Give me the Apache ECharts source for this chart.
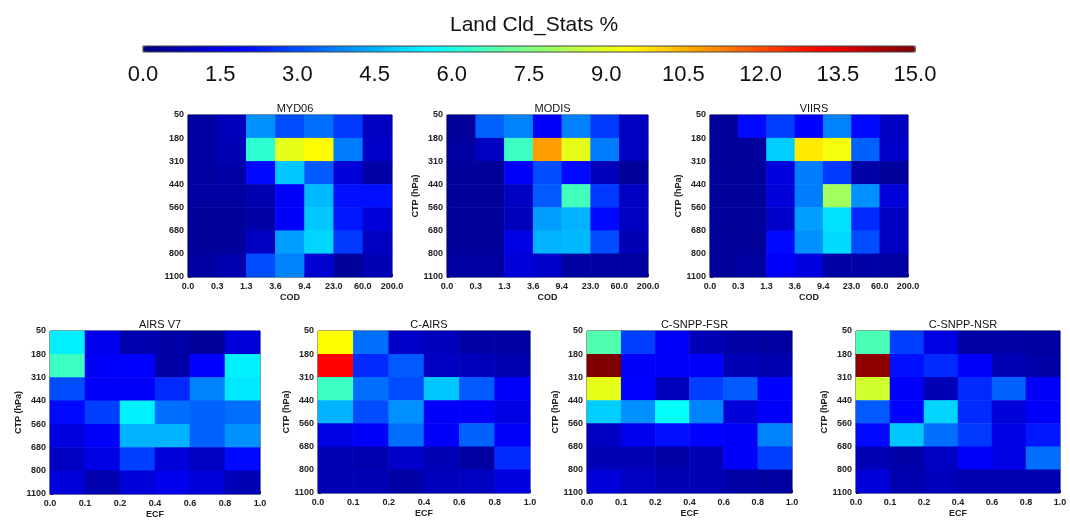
<!DOCTYPE html>
<html>
<head>
<meta charset="utf-8">
<script src="https://cdn.jsdelivr.net/npm/echarts@6/dist/echarts.min.js"></script>
<style>
  html, body { margin: 0; padding: 0; background: #fff; }
  #main { width: 1070px; height: 520px; }
</style>
</head>
<body>
<div id="main"></div>
<script>
// bin edges shown on the axes
var codLabels = ['0.0', '0.3', '1.3', '3.6', '9.4', '23.0', '60.0', '200.0'];
var ecfLabels = ['0.0', '0.1', '0.2', '0.4', '0.6', '0.8', '1.0'];
var ctpLabels = ['50', '180', '310', '440', '560', '680', '800', '1100'];
var colorbarTicks = [0, 1.5, 3, 4.5, 6, 7.5, 9, 10.5, 12, 13.5, 15];

// rows: CTP bins top (50-180) to bottom (800-1100); columns: COD / ECF bins
var myd06 = [
  [0.5, 0.9, 4.0, 3.0, 3.5, 2.7, 1.0],
  [0.5, 0.8, 6.3, 9.0, 9.4, 3.7, 1.1],
  [0.5, 0.6, 2.0, 4.8, 3.2, 1.3, 0.6],
  [0.5, 0.5, 0.7, 1.8, 4.6, 2.1, 2.1],
  [0.4, 0.4, 0.6, 1.8, 4.8, 2.2, 1.3],
  [0.4, 0.4, 1.0, 4.2, 5.0, 2.7, 1.0],
  [0.5, 0.7, 3.0, 3.8, 1.2, 0.4, 0.8]
];
var modis = [
  [0.4, 3.3, 3.8, 1.8, 3.8, 2.7, 1.0],
  [0.5, 1.0, 6.5, 10.8, 9.0, 3.7, 1.0],
  [0.4, 0.4, 1.8, 3.0, 2.0, 0.9, 0.4],
  [0.4, 0.4, 1.0, 3.2, 6.6, 2.7, 1.0],
  [0.4, 0.4, 0.9, 4.2, 4.5, 2.0, 1.0],
  [0.4, 0.4, 1.5, 4.5, 4.6, 3.0, 0.8],
  [0.5, 0.5, 1.3, 1.1, 0.5, 0.5, 0.5]
];
var viirs = [
  [0.4, 2.0, 2.8, 1.9, 3.8, 2.0, 1.0],
  [0.4, 0.4, 4.9, 9.7, 9.2, 3.3, 1.1],
  [0.4, 0.4, 1.4, 3.7, 2.7, 0.6, 0.4],
  [0.4, 0.4, 1.3, 3.7, 8.0, 4.0, 1.3],
  [0.4, 0.4, 1.1, 4.2, 5.2, 2.5, 1.0],
  [0.4, 0.4, 2.0, 4.0, 5.1, 3.0, 1.0],
  [0.4, 0.5, 1.8, 1.4, 0.6, 0.6, 0.5]
];
var airsV7 = [
  [5.4, 1.6, 0.7, 0.6, 0.4, 1.3],
  [6.5, 1.8, 1.9, 0.6, 1.9, 5.4],
  [3.0, 1.8, 1.8, 2.5, 3.8, 5.3],
  [2.0, 2.8, 5.4, 3.5, 3.3, 3.5],
  [1.4, 1.8, 4.5, 4.5, 3.3, 4.0],
  [1.0, 1.5, 2.8, 1.3, 1.0, 2.0],
  [1.3, 0.7, 1.3, 1.6, 1.3, 0.8]
];
var cAirs = [
  [9.4, 3.5, 1.1, 0.9, 0.6, 0.5],
  [13.1, 2.5, 3.2, 1.0, 0.9, 0.7],
  [6.5, 3.5, 3.0, 4.8, 3.2, 1.8],
  [4.5, 3.0, 4.0, 1.8, 1.8, 1.5],
  [1.5, 1.8, 3.5, 1.8, 3.3, 1.8],
  [0.8, 0.7, 1.1, 0.8, 0.5, 2.5],
  [0.8, 0.8, 0.6, 0.9, 1.0, 1.4]
];
var cSnppFsr = [
  [6.8, 2.8, 1.8, 0.8, 0.6, 0.5],
  [15.0, 1.8, 1.8, 1.8, 0.8, 0.7],
  [9.0, 1.9, 0.9, 2.8, 3.2, 1.9],
  [4.9, 4.0, 5.7, 3.8, 1.3, 1.8],
  [1.0, 1.6, 2.1, 1.9, 1.8, 3.8],
  [0.8, 0.8, 0.6, 0.8, 1.8, 2.8],
  [1.3, 1.0, 0.8, 0.8, 0.6, 0.5]
];
var cSnppNsr = [
  [6.7, 2.8, 1.5, 0.6, 0.6, 0.5],
  [14.8, 2.1, 2.5, 1.8, 0.8, 0.6],
  [8.7, 1.8, 0.8, 2.5, 3.3, 1.8],
  [3.2, 1.9, 5.0, 2.5, 1.3, 1.8],
  [2.0, 4.8, 3.5, 2.7, 1.5, 2.2],
  [0.8, 0.6, 1.0, 1.8, 1.5, 3.5],
  [1.3, 0.7, 0.9, 0.7, 0.7, 0.7]
];

var panels = [
  { title: 'MYD06', values: myd06, edges: codLabels, xName: 'COD', yName: '', box: [188, 115, 204, 162] },
  { title: 'MODIS', values: modis, edges: codLabels, xName: 'COD', yName: 'CTP (hPa)', box: [447, 115, 201, 162] },
  { title: 'VIIRS', values: viirs, edges: codLabels, xName: 'COD', yName: 'CTP (hPa)', box: [710, 115, 198, 162] },
  { title: 'AIRS V7', values: airsV7, edges: ecfLabels, xName: 'ECF', yName: 'CTP (hPa)', box: [50, 331, 210, 163] },
  { title: 'C-AIRS', values: cAirs, edges: ecfLabels, xName: 'ECF', yName: 'CTP (hPa)', box: [318, 331, 212, 162] },
  { title: 'C-SNPP-FSR', values: cSnppFsr, edges: ecfLabels, xName: 'ECF', yName: 'CTP (hPa)', box: [587, 331, 205, 162] },
  { title: 'C-SNPP-NSR', values: cSnppNsr, edges: ecfLabels, xName: 'ECF', yName: 'CTP (hPa)', box: [856, 331, 204, 162] }
];

var font = 'Liberation Sans';
var jet = ['#00007f', '#0000ff', '#007fff', '#00ffff', '#7fff7f', '#ffff00', '#ff7f00', '#ff0000', '#7f0000'];

var chart = echarts.init(document.getElementById('main'), null, { renderer: 'canvas' });

var grids = [], xAxes = [], yAxes = [], series = [], titles = [];

panels.forEach(function (p, i) {
  var nx = p.edges.length - 1;
  var ny = ctpLabels.length - 1;
  grids.push({
    left: p.box[0], top: p.box[1], width: p.box[2], height: p.box[3],
    show: true, borderColor: '#222', borderWidth: 1, backgroundColor: 'transparent'
  });
  titles.push({
    text: p.title,
    left: p.box[0] + p.box[2] / 2, top: p.box[1] - 17, textAlign: 'center',
    textStyle: { fontFamily: font, fontSize: 11, fontWeight: 'normal', color: '#111' }
  });
  // hidden category axes carry the cells
  xAxes.push({
    type: 'category', gridIndex: i, show: false,
    data: p.edges.slice(0, nx)
  });
  yAxes.push({
    type: 'category', gridIndex: i, show: false, inverse: true,
    data: ctpLabels.slice(0, ny)
  });
  // value axes give the labels on the bin edges
  xAxes.push({
    type: 'value', gridIndex: i, min: 0, max: nx, interval: 1, position: 'bottom',
    name: p.xName, nameLocation: 'middle', nameGap: 16,
    nameTextStyle: { fontFamily: font, fontSize: 9, fontWeight: 'bold', color: '#222' },
    axisLine: { show: false },
    axisTick: { show: true, inside: true, length: 3, lineStyle: { color: '#222' } },
    splitLine: { show: false },
    axisLabel: {
      fontFamily: font, fontSize: 9, fontWeight: 'bold', color: '#222', margin: 5,
      showMinLabel: true, showMaxLabel: true, hideOverlap: false,
      formatter: function (v) { return p.edges[Math.round(v)]; }
    }
  });
  yAxes.push({
    type: 'value', gridIndex: i, min: 0, max: ny, interval: 1, inverse: true, position: 'left',
    name: p.yName, nameLocation: 'middle', nameGap: 26, nameRotate: 90,
    nameTextStyle: { fontFamily: font, fontSize: 9, fontWeight: 'bold', color: '#222' },
    axisLine: { show: false },
    axisTick: { show: true, inside: true, length: 3, lineStyle: { color: '#222' } },
    splitLine: { show: false },
    axisLabel: {
      fontFamily: font, fontSize: 9, fontWeight: 'bold', color: '#222', margin: 4,
      showMinLabel: true, showMaxLabel: true, hideOverlap: false,
      formatter: function (v) { return ctpLabels[Math.round(v)]; }
    }
  });
  var data = [];
  p.values.forEach(function (row, r) {
    row.forEach(function (v, c) { data.push([c, r, v]); });
  });
  series.push({
    name: p.title, type: 'heatmap',
    xAxisIndex: 2 * i, yAxisIndex: 2 * i,
    data: data, itemStyle: { borderWidth: 0 },
    emphasis: { disabled: true }, progressive: 0
  });
});

// colorbar frame + tick labels
var cbIndex = panels.length;
grids.push({
  left: 143, top: 46, width: 772, height: 6, z: 5,
  show: true, borderColor: '#444', borderWidth: 1, backgroundColor: 'transparent'
});
xAxes.push({
  type: 'value', gridIndex: cbIndex, min: 0, max: 15, interval: 1.5,
  axisLine: { show: false },
  axisTick: { show: true, inside: true, length: 6, lineStyle: { color: 'rgba(60,60,60,0.5)' } },
  splitLine: { show: false },
  axisLabel: {
    fontFamily: font, fontSize: 22, color: '#111', margin: 12,
    showMinLabel: true, showMaxLabel: true, hideOverlap: false,
    formatter: function (v) { return v.toFixed(1); }
  }
});
yAxes.push({ type: 'value', gridIndex: cbIndex, show: false, min: 0, max: 1 });

titles.push({
  text: 'Land Cld_Stats %', left: 529, top: 10, textAlign: 'center',
  textStyle: { fontFamily: font, fontSize: 21, fontWeight: 'normal', color: '#111' }
});

var option = {
  backgroundColor: '#fff',
  animation: false,
  title: titles,
  grid: grids,
  xAxis: xAxes,
  yAxis: yAxes,
  visualMap: {
    type: 'continuous', min: 0, max: 15,
    seriesIndex: panels.map(function (p, i) { return i; }),
    orient: 'horizontal', left: 143, top: 46,
    itemWidth: 6, itemHeight: 772,
    calculable: false, realtime: false, text: null, showLabel: false,
    padding: 0, z: 1,
    inRange: { color: jet }
  },
  series: series
};
chart.setOption(option);
</script>
</body>
</html>
